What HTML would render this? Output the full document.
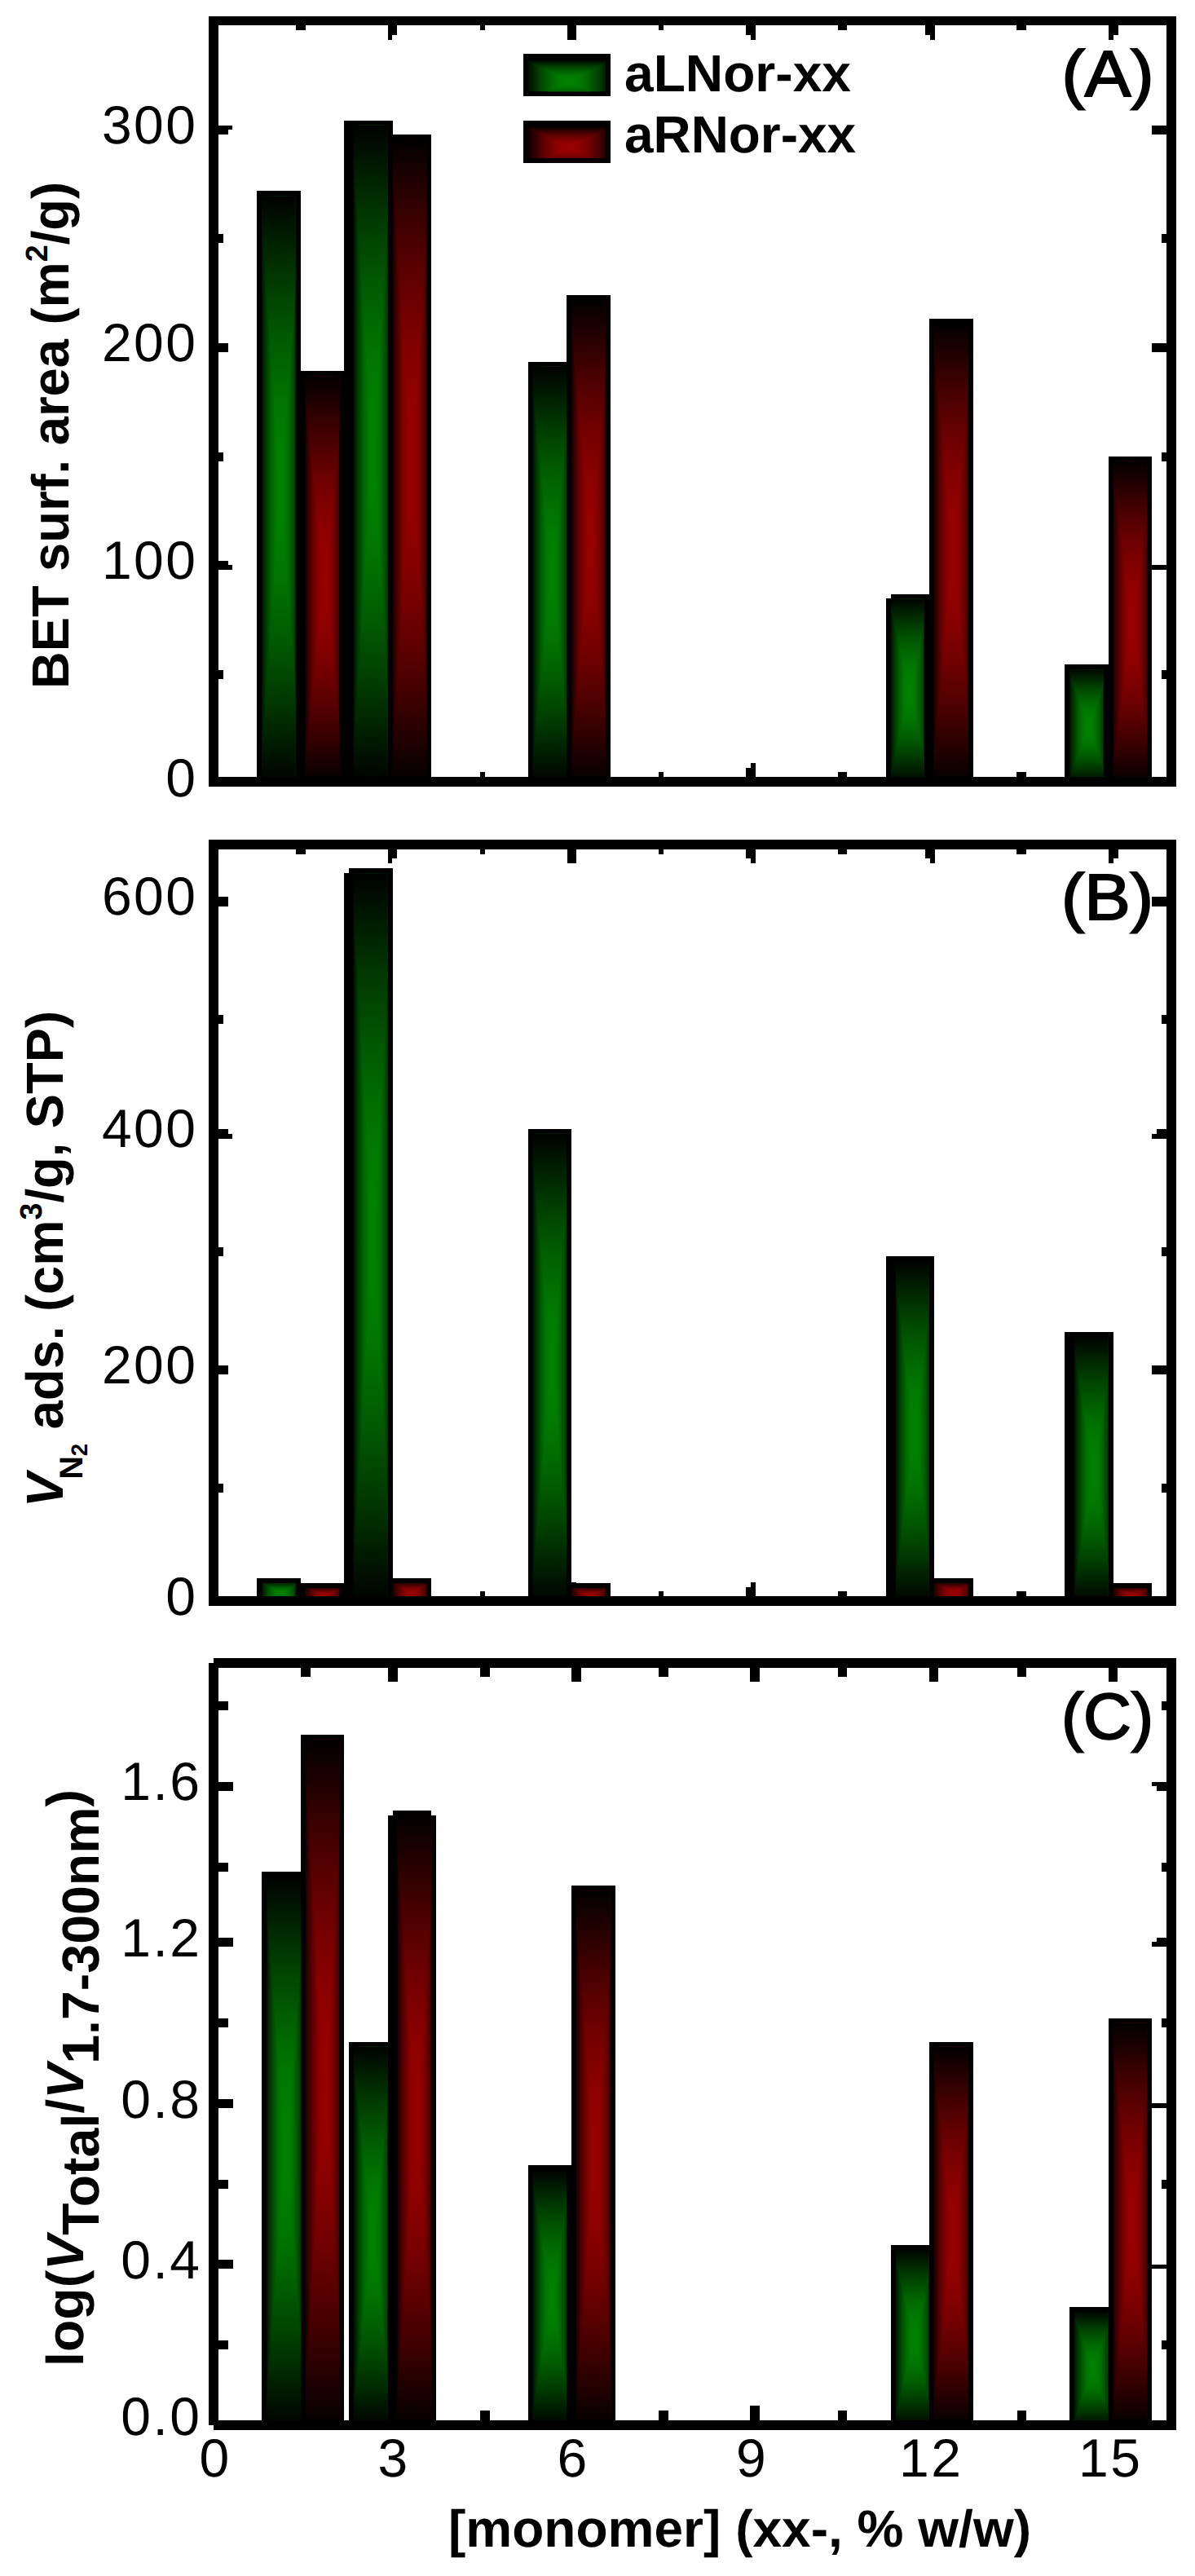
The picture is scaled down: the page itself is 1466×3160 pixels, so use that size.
<!DOCTYPE html>
<html lang="en">
<head>
<meta charset="utf-8">
<title>Figure: BET surface area, N2 adsorbed volume and pore volume ratio vs monomer concentration</title>
<style>
html,body{margin:0;padding:0;background:#fff;}
body{width:1466px;height:3160px;overflow:hidden;font-family:'Liberation Sans', sans-serif;}
svg{display:block;}
text{text-rendering:geometricPrecision;}
</style>
</head>
<body>
<svg width="1466" height="3160" viewBox="0 0 1466 3160" shape-rendering="crispEdges" font-family="'Liberation Sans', sans-serif" fill="#000">
<defs>
<clipPath id="c1"><rect x="321.2" y="240.3" width="41.4" height="718.9"/></clipPath>
<clipPath id="c2"><rect x="374.4" y="461.3" width="41.9" height="497.9"/></clipPath>
<clipPath id="c3"><rect x="434.0" y="153.5" width="41.8" height="805.7"/></clipPath>
<clipPath id="c4"><rect x="481.7" y="170.9" width="41.2" height="788.3"/></clipPath>
<clipPath id="c5"><rect x="653.6" y="449.7" width="41.6" height="509.5"/></clipPath>
<clipPath id="c6"><rect x="701.1" y="367.9" width="41.6" height="591.3"/></clipPath>
<clipPath id="c7"><rect x="1092.9" y="734.4" width="40.8" height="224.8"/></clipPath>
<clipPath id="c8"><rect x="1145.5" y="396.9" width="42.5" height="562.3"/></clipPath>
<clipPath id="c9"><rect x="1312.2" y="821.2" width="41.4" height="138.0"/></clipPath>
<clipPath id="c10"><rect x="1365.4" y="565.7" width="42.0" height="393.5"/></clipPath>
<clipPath id="c11"><rect x="321.2" y="1942.3" width="41.4" height="21.9"/></clipPath>
<clipPath id="c12"><rect x="374.4" y="1948.3" width="41.9" height="15.9"/></clipPath>
<clipPath id="c13"><rect x="434.0" y="1071.2" width="41.8" height="893.0"/></clipPath>
<clipPath id="c14"><rect x="481.7" y="1942.3" width="41.2" height="21.9"/></clipPath>
<clipPath id="c15"><rect x="653.6" y="1390.5" width="41.4" height="573.7"/></clipPath>
<clipPath id="c16"><rect x="700.9" y="1948.3" width="41.8" height="15.9"/></clipPath>
<clipPath id="c17"><rect x="1098.8" y="1547.1" width="41.0" height="417.1"/></clipPath>
<clipPath id="c18"><rect x="1145.7" y="1942.3" width="42.3" height="21.9"/></clipPath>
<clipPath id="c19"><rect x="1318.1" y="1639.9" width="41.6" height="324.3"/></clipPath>
<clipPath id="c20"><rect x="1365.6" y="1948.3" width="41.8" height="15.9"/></clipPath>
<clipPath id="c21"><rect x="327.2" y="2302.1" width="41.8" height="672.7"/></clipPath>
<clipPath id="c22"><rect x="374.9" y="2133.4" width="41.4" height="841.4"/></clipPath>
<clipPath id="c23"><rect x="434.1" y="2510.5" width="41.5" height="464.3"/></clipPath>
<clipPath id="c24"><rect x="487.4" y="2226.9" width="41.4" height="747.9"/></clipPath>
<clipPath id="c25"><rect x="653.6" y="2662.1" width="41.4" height="312.7"/></clipPath>
<clipPath id="c26"><rect x="706.8" y="2319.2" width="41.9" height="655.6"/></clipPath>
<clipPath id="c27"><rect x="1098.9" y="2760.0" width="40.7" height="214.8"/></clipPath>
<clipPath id="c28"><rect x="1145.5" y="2510.5" width="42.5" height="464.3"/></clipPath>
<clipPath id="c29"><rect x="1317.7" y="2835.9" width="41.8" height="138.9"/></clipPath>
<clipPath id="c30"><rect x="1365.4" y="2481.4" width="42.0" height="493.4"/></clipPath>
<clipPath id="c31"><rect x="647.6" y="71.9" width="95.1" height="40.4"/></clipPath>
<clipPath id="c32"><rect x="647.6" y="153.5" width="95.1" height="40.4"/></clipPath>
<linearGradient id="gh" x1="0" y1="0" x2="1" y2="0"><stop offset="0.000" stop-color="rgb(0,0,0)"/><stop offset="0.050" stop-color="rgb(0,20,0)"/><stop offset="0.100" stop-color="rgb(0,40,0)"/><stop offset="0.150" stop-color="rgb(0,59,0)"/><stop offset="0.200" stop-color="rgb(0,76,0)"/><stop offset="0.250" stop-color="rgb(0,92,0)"/><stop offset="0.300" stop-color="rgb(0,105,0)"/><stop offset="0.350" stop-color="rgb(0,116,0)"/><stop offset="0.400" stop-color="rgb(0,124,0)"/><stop offset="0.450" stop-color="rgb(0,128,0)"/><stop offset="0.500" stop-color="rgb(0,130,0)"/><stop offset="0.550" stop-color="rgb(0,128,0)"/><stop offset="0.600" stop-color="rgb(0,124,0)"/><stop offset="0.650" stop-color="rgb(0,116,0)"/><stop offset="0.700" stop-color="rgb(0,105,0)"/><stop offset="0.750" stop-color="rgb(0,92,0)"/><stop offset="0.800" stop-color="rgb(0,76,0)"/><stop offset="0.850" stop-color="rgb(0,59,0)"/><stop offset="0.900" stop-color="rgb(0,40,0)"/><stop offset="0.950" stop-color="rgb(0,20,0)"/><stop offset="1.000" stop-color="rgb(0,0,0)"/></linearGradient>
<linearGradient id="gt" x1="0" y1="0" x2="0" y2="1"><stop offset="0.000" stop-color="rgb(0,0,0)"/><stop offset="0.100" stop-color="rgb(0,20,0)"/><stop offset="0.200" stop-color="rgb(0,40,0)"/><stop offset="0.300" stop-color="rgb(0,59,0)"/><stop offset="0.400" stop-color="rgb(0,76,0)"/><stop offset="0.500" stop-color="rgb(0,92,0)"/><stop offset="0.600" stop-color="rgb(0,105,0)"/><stop offset="0.700" stop-color="rgb(0,116,0)"/><stop offset="0.800" stop-color="rgb(0,124,0)"/><stop offset="0.900" stop-color="rgb(0,128,0)"/><stop offset="1.000" stop-color="rgb(0,130,0)"/></linearGradient>
<linearGradient id="gb" x1="0" y1="0" x2="0" y2="1"><stop offset="0.000" stop-color="rgb(0,130,0)"/><stop offset="0.100" stop-color="rgb(0,128,0)"/><stop offset="0.200" stop-color="rgb(0,124,0)"/><stop offset="0.300" stop-color="rgb(0,116,0)"/><stop offset="0.400" stop-color="rgb(0,105,0)"/><stop offset="0.500" stop-color="rgb(0,92,0)"/><stop offset="0.600" stop-color="rgb(0,76,0)"/><stop offset="0.700" stop-color="rgb(0,59,0)"/><stop offset="0.800" stop-color="rgb(0,40,0)"/><stop offset="0.900" stop-color="rgb(0,20,0)"/><stop offset="1.000" stop-color="rgb(0,0,0)"/></linearGradient>
<linearGradient id="rh" x1="0" y1="0" x2="1" y2="0"><stop offset="0.000" stop-color="rgb(0,0,0)"/><stop offset="0.050" stop-color="rgb(24,0,0)"/><stop offset="0.100" stop-color="rgb(47,0,0)"/><stop offset="0.150" stop-color="rgb(69,0,0)"/><stop offset="0.200" stop-color="rgb(89,0,0)"/><stop offset="0.250" stop-color="rgb(107,0,0)"/><stop offset="0.300" stop-color="rgb(123,0,0)"/><stop offset="0.350" stop-color="rgb(135,0,0)"/><stop offset="0.400" stop-color="rgb(145,0,0)"/><stop offset="0.450" stop-color="rgb(150,0,0)"/><stop offset="0.500" stop-color="rgb(152,0,0)"/><stop offset="0.550" stop-color="rgb(150,0,0)"/><stop offset="0.600" stop-color="rgb(145,0,0)"/><stop offset="0.650" stop-color="rgb(135,0,0)"/><stop offset="0.700" stop-color="rgb(123,0,0)"/><stop offset="0.750" stop-color="rgb(107,0,0)"/><stop offset="0.800" stop-color="rgb(89,0,0)"/><stop offset="0.850" stop-color="rgb(69,0,0)"/><stop offset="0.900" stop-color="rgb(47,0,0)"/><stop offset="0.950" stop-color="rgb(24,0,0)"/><stop offset="1.000" stop-color="rgb(0,0,0)"/></linearGradient>
<linearGradient id="rt" x1="0" y1="0" x2="0" y2="1"><stop offset="0.000" stop-color="rgb(0,0,0)"/><stop offset="0.100" stop-color="rgb(24,0,0)"/><stop offset="0.200" stop-color="rgb(47,0,0)"/><stop offset="0.300" stop-color="rgb(69,0,0)"/><stop offset="0.400" stop-color="rgb(89,0,0)"/><stop offset="0.500" stop-color="rgb(107,0,0)"/><stop offset="0.600" stop-color="rgb(123,0,0)"/><stop offset="0.700" stop-color="rgb(135,0,0)"/><stop offset="0.800" stop-color="rgb(145,0,0)"/><stop offset="0.900" stop-color="rgb(150,0,0)"/><stop offset="1.000" stop-color="rgb(152,0,0)"/></linearGradient>
<linearGradient id="rb" x1="0" y1="0" x2="0" y2="1"><stop offset="0.000" stop-color="rgb(152,0,0)"/><stop offset="0.100" stop-color="rgb(150,0,0)"/><stop offset="0.200" stop-color="rgb(145,0,0)"/><stop offset="0.300" stop-color="rgb(135,0,0)"/><stop offset="0.400" stop-color="rgb(123,0,0)"/><stop offset="0.500" stop-color="rgb(107,0,0)"/><stop offset="0.600" stop-color="rgb(89,0,0)"/><stop offset="0.700" stop-color="rgb(69,0,0)"/><stop offset="0.800" stop-color="rgb(47,0,0)"/><stop offset="0.900" stop-color="rgb(24,0,0)"/><stop offset="1.000" stop-color="rgb(0,0,0)"/></linearGradient>
</defs>
<rect x="363.0" y="30.2" width="11.6" height="7.0" fill="#000"/>
<rect x="363.0" y="947.4" width="11.6" height="7.0" fill="#000"/>
<rect x="475.6" y="30.2" width="11.6" height="12.5" fill="#000"/>
<rect x="475.6" y="941.9" width="11.6" height="12.5" fill="#000"/>
<rect x="475.6" y="30.2" width="5.8" height="18.4" fill="#000"/>
<rect x="475.6" y="936.0" width="5.8" height="18.4" fill="#000"/>
<rect x="589.0" y="30.2" width="6.0" height="7.0" fill="#000"/>
<rect x="589.0" y="947.4" width="6.0" height="7.0" fill="#000"/>
<rect x="695.5" y="30.2" width="11.5" height="18.4" fill="#000"/>
<rect x="695.5" y="936.0" width="11.5" height="18.4" fill="#000"/>
<rect x="808.0" y="30.2" width="6.0" height="7.0" fill="#000"/>
<rect x="808.0" y="947.4" width="6.0" height="7.0" fill="#000"/>
<rect x="915.0" y="30.2" width="11.5" height="12.5" fill="#000"/>
<rect x="915.0" y="941.9" width="11.5" height="12.5" fill="#000"/>
<rect x="920.8" y="30.2" width="5.8" height="18.4" fill="#000"/>
<rect x="920.8" y="936.0" width="5.8" height="18.4" fill="#000"/>
<rect x="1028.0" y="30.2" width="11.4" height="7.0" fill="#000"/>
<rect x="1028.0" y="947.4" width="11.4" height="7.0" fill="#000"/>
<rect x="1135.0" y="30.2" width="11.5" height="12.5" fill="#000"/>
<rect x="1135.0" y="941.9" width="11.5" height="12.5" fill="#000"/>
<rect x="1140.8" y="30.2" width="5.8" height="18.4" fill="#000"/>
<rect x="1140.8" y="936.0" width="5.8" height="18.4" fill="#000"/>
<rect x="1247.0" y="30.2" width="11.8" height="7.0" fill="#000"/>
<rect x="1247.0" y="947.4" width="11.8" height="7.0" fill="#000"/>
<rect x="1359.8" y="30.2" width="11.7" height="12.5" fill="#000"/>
<rect x="1359.8" y="941.9" width="11.7" height="12.5" fill="#000"/>
<rect x="1359.8" y="30.2" width="5.9" height="18.4" fill="#000"/>
<rect x="1359.8" y="936.0" width="5.9" height="18.4" fill="#000"/>
<rect x="266.8" y="153.6" width="18.5" height="5.7" fill="#000"/>
<rect x="266.8" y="159.3" width="12.7" height="5.7" fill="#000"/>
<rect x="1413.3" y="153.6" width="19.0" height="5.7" fill="#000"/>
<rect x="1413.3" y="159.3" width="19.0" height="5.7" fill="#000"/>
<rect x="266.8" y="287.0" width="7.0" height="5.5" fill="#000"/>
<rect x="266.8" y="292.5" width="7.0" height="5.5" fill="#000"/>
<rect x="1424.8" y="287.0" width="7.5" height="5.5" fill="#000"/>
<rect x="1424.8" y="292.5" width="7.5" height="5.5" fill="#000"/>
<rect x="266.8" y="421.0" width="12.7" height="5.5" fill="#000"/>
<rect x="266.8" y="426.5" width="12.7" height="5.5" fill="#000"/>
<rect x="1413.3" y="421.0" width="19.0" height="5.5" fill="#000"/>
<rect x="1413.3" y="426.5" width="19.0" height="5.5" fill="#000"/>
<rect x="266.8" y="555.0" width="7.0" height="5.5" fill="#000"/>
<rect x="266.8" y="560.5" width="7.0" height="5.5" fill="#000"/>
<rect x="1424.8" y="555.0" width="7.5" height="5.5" fill="#000"/>
<rect x="1424.8" y="560.5" width="7.5" height="5.5" fill="#000"/>
<rect x="266.8" y="687.5" width="12.7" height="5.8" fill="#000"/>
<rect x="266.8" y="693.2" width="18.5" height="5.8" fill="#000"/>
<rect x="1431.3" y="687.5" width="1.0" height="5.8" fill="#000"/>
<rect x="1413.3" y="693.2" width="19.0" height="5.8" fill="#000"/>
<rect x="266.8" y="822.0" width="7.0" height="5.5" fill="#000"/>
<rect x="266.8" y="827.5" width="7.0" height="5.5" fill="#000"/>
<rect x="1424.8" y="822.0" width="7.5" height="5.5" fill="#000"/>
<rect x="1424.8" y="827.5" width="7.5" height="5.5" fill="#000"/>
<rect x="315.3" y="234.4" width="53.2" height="724.8" fill="#000"/>
<g clip-path="url(#c1)">
<rect x="318.7" y="238.3" width="51.4" height="723.9" fill="url(#gh)"/>
<polygon points="318.7,238.3 370.1,238.3 344.4,600.2" fill="url(#gt)"/>
<polygon points="318.7,962.2 370.1,962.2 344.4,600.2" fill="url(#gb)"/>
</g>
<rect x="368.5" y="455.4" width="53.7" height="503.8" fill="#000"/>
<g clip-path="url(#c2)">
<rect x="371.9" y="459.3" width="51.9" height="502.9" fill="url(#rh)"/>
<polygon points="371.9,459.3 423.8,459.3 397.9,710.8" fill="url(#rt)"/>
<polygon points="371.9,962.2 423.8,962.2 397.9,710.8" fill="url(#rb)"/>
</g>
<rect x="422.2" y="147.6" width="59.5" height="811.6" fill="#000"/>
<g clip-path="url(#c3)">
<rect x="431.5" y="151.5" width="51.8" height="810.7" fill="url(#gh)"/>
<polygon points="431.5,151.5 483.3,151.5 457.4,556.9" fill="url(#gt)"/>
<polygon points="431.5,962.2 483.3,962.2 457.4,556.9" fill="url(#gb)"/>
</g>
<rect x="481.7" y="165.0" width="47.1" height="794.2" fill="#000"/>
<g clip-path="url(#c4)">
<rect x="479.2" y="168.9" width="51.2" height="793.3" fill="url(#rh)"/>
<polygon points="479.2,168.9 530.4,168.9 504.8,565.6" fill="url(#rt)"/>
<polygon points="479.2,962.2 530.4,962.2 504.8,565.6" fill="url(#rb)"/>
</g>
<rect x="647.7" y="443.8" width="47.5" height="515.4" fill="#000"/>
<g clip-path="url(#c5)">
<rect x="651.1" y="447.7" width="51.6" height="514.5" fill="url(#gh)"/>
<polygon points="651.1,447.7 702.7,447.7 676.9,705.0" fill="url(#gt)"/>
<polygon points="651.1,962.2 702.7,962.2 676.9,705.0" fill="url(#gb)"/>
</g>
<rect x="695.2" y="362.0" width="53.4" height="597.2" fill="#000"/>
<g clip-path="url(#c6)">
<rect x="698.6" y="365.9" width="51.6" height="596.3" fill="url(#rh)"/>
<polygon points="698.6,365.9 750.2,365.9 724.4,664.0" fill="url(#rt)"/>
<polygon points="698.6,962.2 750.2,962.2 724.4,664.0" fill="url(#rb)"/>
</g>
<rect x="1087.0" y="728.5" width="52.6" height="230.7" fill="#000"/>
<g clip-path="url(#c7)">
<rect x="1090.4" y="732.4" width="50.8" height="229.8" fill="url(#gh)"/>
<polygon points="1090.4,732.4 1141.2,732.4 1115.8,847.3" fill="url(#gt)"/>
<polygon points="1090.4,962.2 1141.2,962.2 1115.8,847.3" fill="url(#gb)"/>
</g>
<rect x="1139.6" y="391.0" width="54.3" height="568.2" fill="#000"/>
<g clip-path="url(#c8)">
<rect x="1143.0" y="394.9" width="52.5" height="567.3" fill="url(#rh)"/>
<polygon points="1143.0,394.9 1195.5,394.9 1169.2,678.5" fill="url(#rt)"/>
<polygon points="1143.0,962.2 1195.5,962.2 1169.2,678.5" fill="url(#rb)"/>
</g>
<rect x="1306.3" y="815.3" width="53.2" height="143.9" fill="#000"/>
<g clip-path="url(#c9)">
<rect x="1309.7" y="819.2" width="51.4" height="143.0" fill="url(#gh)"/>
<polygon points="1309.7,819.2 1361.1,819.2 1335.4,890.7" fill="url(#gt)"/>
<polygon points="1309.7,962.2 1361.1,962.2 1335.4,890.7" fill="url(#gb)"/>
</g>
<rect x="1359.5" y="559.8" width="53.8" height="399.4" fill="#000"/>
<g clip-path="url(#c10)">
<rect x="1362.9" y="563.7" width="52.0" height="398.5" fill="url(#rh)"/>
<polygon points="1362.9,563.7 1414.9,563.7 1388.9,763.0" fill="url(#rt)"/>
<polygon points="1362.9,962.2 1414.9,962.2 1388.9,763.0" fill="url(#rb)"/>
</g>
<rect x="256.2" y="19.6" width="1186.7" height="11.6" fill="#000"/>
<rect x="256.2" y="953.4" width="1186.7" height="11.6" fill="#000"/>
<rect x="256.2" y="19.6" width="11.6" height="945.4" fill="#000"/>
<rect x="1431.3" y="19.6" width="11.6" height="945.4" fill="#000"/>
<rect x="363.0" y="1040.7" width="11.6" height="7.0" fill="#000"/>
<rect x="363.0" y="1952.4" width="11.6" height="7.0" fill="#000"/>
<rect x="475.6" y="1040.7" width="11.6" height="12.5" fill="#000"/>
<rect x="475.6" y="1946.9" width="11.6" height="12.5" fill="#000"/>
<rect x="475.6" y="1040.7" width="5.8" height="18.4" fill="#000"/>
<rect x="475.6" y="1941.0" width="5.8" height="18.4" fill="#000"/>
<rect x="589.0" y="1040.7" width="6.0" height="7.0" fill="#000"/>
<rect x="589.0" y="1952.4" width="6.0" height="7.0" fill="#000"/>
<rect x="695.5" y="1040.7" width="11.5" height="18.4" fill="#000"/>
<rect x="695.5" y="1941.0" width="11.5" height="18.4" fill="#000"/>
<rect x="808.0" y="1040.7" width="6.0" height="7.0" fill="#000"/>
<rect x="808.0" y="1952.4" width="6.0" height="7.0" fill="#000"/>
<rect x="915.0" y="1040.7" width="11.5" height="12.5" fill="#000"/>
<rect x="915.0" y="1946.9" width="11.5" height="12.5" fill="#000"/>
<rect x="920.8" y="1040.7" width="5.8" height="18.4" fill="#000"/>
<rect x="920.8" y="1941.0" width="5.8" height="18.4" fill="#000"/>
<rect x="1028.0" y="1040.7" width="11.4" height="7.0" fill="#000"/>
<rect x="1028.0" y="1952.4" width="11.4" height="7.0" fill="#000"/>
<rect x="1135.0" y="1040.7" width="11.5" height="12.5" fill="#000"/>
<rect x="1135.0" y="1946.9" width="11.5" height="12.5" fill="#000"/>
<rect x="1140.8" y="1040.7" width="5.8" height="18.4" fill="#000"/>
<rect x="1140.8" y="1941.0" width="5.8" height="18.4" fill="#000"/>
<rect x="1247.0" y="1040.7" width="11.8" height="7.0" fill="#000"/>
<rect x="1247.0" y="1952.4" width="11.8" height="7.0" fill="#000"/>
<rect x="1359.8" y="1040.7" width="11.7" height="12.5" fill="#000"/>
<rect x="1359.8" y="1946.9" width="11.7" height="12.5" fill="#000"/>
<rect x="1359.8" y="1040.7" width="5.9" height="18.4" fill="#000"/>
<rect x="1359.8" y="1941.0" width="5.9" height="18.4" fill="#000"/>
<rect x="266.8" y="1100.4" width="13.2" height="5.5" fill="#000"/>
<rect x="266.8" y="1106.0" width="13.2" height="5.5" fill="#000"/>
<rect x="1413.3" y="1100.4" width="19.0" height="5.5" fill="#000"/>
<rect x="1413.3" y="1106.0" width="19.0" height="5.5" fill="#000"/>
<rect x="266.8" y="1245.0" width="7.0" height="5.5" fill="#000"/>
<rect x="266.8" y="1250.5" width="7.0" height="5.5" fill="#000"/>
<rect x="1424.8" y="1245.0" width="7.5" height="5.5" fill="#000"/>
<rect x="1424.8" y="1250.5" width="7.5" height="5.5" fill="#000"/>
<rect x="266.8" y="1385.0" width="13.2" height="5.8" fill="#000"/>
<rect x="266.8" y="1390.8" width="18.5" height="5.8" fill="#000"/>
<rect x="1419.3" y="1385.0" width="13.0" height="5.8" fill="#000"/>
<rect x="1413.3" y="1390.8" width="19.0" height="5.8" fill="#000"/>
<rect x="266.8" y="1529.7" width="7.0" height="5.5" fill="#000"/>
<rect x="266.8" y="1535.2" width="7.0" height="5.5" fill="#000"/>
<rect x="1424.8" y="1529.7" width="7.5" height="5.5" fill="#000"/>
<rect x="1424.8" y="1535.2" width="7.5" height="5.5" fill="#000"/>
<rect x="266.8" y="1675.3" width="13.2" height="5.5" fill="#000"/>
<rect x="266.8" y="1680.8" width="13.2" height="5.5" fill="#000"/>
<rect x="1413.3" y="1675.3" width="19.0" height="5.5" fill="#000"/>
<rect x="1413.3" y="1680.8" width="19.0" height="5.5" fill="#000"/>
<rect x="266.8" y="1820.0" width="7.0" height="5.5" fill="#000"/>
<rect x="266.8" y="1825.5" width="7.0" height="5.5" fill="#000"/>
<rect x="1424.8" y="1820.0" width="7.5" height="5.5" fill="#000"/>
<rect x="1424.8" y="1825.5" width="7.5" height="5.5" fill="#000"/>
<rect x="315.3" y="1936.4" width="53.2" height="27.8" fill="#000"/>
<g clip-path="url(#c11)">
<rect x="318.7" y="1940.3" width="51.4" height="26.9" fill="url(#gh)"/>
<polygon points="318.7,1940.3 370.1,1940.3 344.4,1953.8" fill="url(#gt)"/>
<polygon points="318.7,1967.2 370.1,1967.2 344.4,1953.8" fill="url(#gb)"/>
</g>
<rect x="368.5" y="1942.4" width="53.7" height="21.8" fill="#000"/>
<g clip-path="url(#c12)">
<rect x="371.9" y="1946.3" width="51.9" height="20.9" fill="url(#rh)"/>
<polygon points="371.9,1946.3 423.8,1946.3 397.9,1956.8" fill="url(#rt)"/>
<polygon points="371.9,1967.2 423.8,1967.2 397.9,1956.8" fill="url(#rb)"/>
</g>
<rect x="422.2" y="1065.3" width="59.5" height="898.9" fill="#000"/>
<g clip-path="url(#c13)">
<rect x="431.5" y="1069.2" width="51.8" height="898.0" fill="url(#gh)"/>
<polygon points="431.5,1069.2 483.3,1069.2 457.4,1518.2" fill="url(#gt)"/>
<polygon points="431.5,1967.2 483.3,1967.2 457.4,1518.2" fill="url(#gb)"/>
</g>
<rect x="481.7" y="1936.4" width="47.1" height="27.8" fill="#000"/>
<g clip-path="url(#c14)">
<rect x="479.2" y="1940.3" width="51.2" height="26.9" fill="url(#rh)"/>
<polygon points="479.2,1940.3 530.4,1940.3 504.8,1953.8" fill="url(#rt)"/>
<polygon points="479.2,1967.2 530.4,1967.2 504.8,1953.8" fill="url(#rb)"/>
</g>
<rect x="647.7" y="1384.6" width="53.2" height="579.6" fill="#000"/>
<g clip-path="url(#c15)">
<rect x="651.1" y="1388.5" width="51.4" height="578.7" fill="url(#gh)"/>
<polygon points="651.1,1388.5 702.5,1388.5 676.8,1677.8" fill="url(#gt)"/>
<polygon points="651.1,1967.2 702.5,1967.2 676.8,1677.8" fill="url(#gb)"/>
</g>
<rect x="700.9" y="1942.4" width="47.7" height="21.8" fill="#000"/>
<g clip-path="url(#c16)">
<rect x="698.4" y="1946.3" width="51.8" height="20.9" fill="url(#rh)"/>
<polygon points="698.4,1946.3 750.2,1946.3 724.3,1956.8" fill="url(#rt)"/>
<polygon points="698.4,1967.2 750.2,1967.2 724.3,1956.8" fill="url(#rb)"/>
</g>
<rect x="1087.0" y="1541.2" width="58.7" height="423.0" fill="#000"/>
<g clip-path="url(#c17)">
<rect x="1096.3" y="1545.1" width="51.0" height="422.1" fill="url(#gh)"/>
<polygon points="1096.3,1545.1 1147.3,1545.1 1121.8,1756.2" fill="url(#gt)"/>
<polygon points="1096.3,1967.2 1147.3,1967.2 1121.8,1756.2" fill="url(#gb)"/>
</g>
<rect x="1145.7" y="1936.4" width="48.2" height="27.8" fill="#000"/>
<g clip-path="url(#c18)">
<rect x="1143.2" y="1940.3" width="52.3" height="26.9" fill="url(#rh)"/>
<polygon points="1143.2,1940.3 1195.5,1940.3 1169.3,1953.8" fill="url(#rt)"/>
<polygon points="1143.2,1967.2 1195.5,1967.2 1169.3,1953.8" fill="url(#rb)"/>
</g>
<rect x="1306.3" y="1634.0" width="59.3" height="330.2" fill="#000"/>
<g clip-path="url(#c19)">
<rect x="1315.6" y="1637.9" width="51.6" height="329.3" fill="url(#gh)"/>
<polygon points="1315.6,1637.9 1367.2,1637.9 1341.4,1802.6" fill="url(#gt)"/>
<polygon points="1315.6,1967.2 1367.2,1967.2 1341.4,1802.6" fill="url(#gb)"/>
</g>
<rect x="1365.6" y="1942.4" width="47.7" height="21.8" fill="#000"/>
<g clip-path="url(#c20)">
<rect x="1363.1" y="1946.3" width="51.8" height="20.9" fill="url(#rh)"/>
<polygon points="1363.1,1946.3 1414.9,1946.3 1389.0,1956.8" fill="url(#rt)"/>
<polygon points="1363.1,1967.2 1414.9,1967.2 1389.0,1956.8" fill="url(#rb)"/>
</g>
<rect x="256.2" y="1030.1" width="1186.7" height="11.6" fill="#000"/>
<rect x="256.2" y="1958.4" width="1186.7" height="11.6" fill="#000"/>
<rect x="256.2" y="1030.1" width="11.6" height="939.9" fill="#000"/>
<rect x="1431.3" y="1030.1" width="11.6" height="939.9" fill="#000"/>
<rect x="369.0" y="2044.7" width="11.5" height="12.6" fill="#000"/>
<rect x="369.0" y="2957.4" width="11.5" height="12.6" fill="#000"/>
<rect x="476.0" y="2044.7" width="11.5" height="18.6" fill="#000"/>
<rect x="476.0" y="2951.4" width="11.5" height="18.6" fill="#000"/>
<rect x="589.0" y="2044.7" width="11.5" height="12.6" fill="#000"/>
<rect x="589.0" y="2957.4" width="11.5" height="12.6" fill="#000"/>
<rect x="701.0" y="2044.7" width="11.5" height="18.6" fill="#000"/>
<rect x="701.0" y="2951.4" width="11.5" height="18.6" fill="#000"/>
<rect x="808.3" y="2044.7" width="11.7" height="12.6" fill="#000"/>
<rect x="808.3" y="2957.4" width="11.7" height="12.6" fill="#000"/>
<rect x="920.0" y="2044.7" width="12.0" height="18.6" fill="#000"/>
<rect x="920.0" y="2951.4" width="12.0" height="18.6" fill="#000"/>
<rect x="1027.7" y="2044.7" width="11.6" height="12.6" fill="#000"/>
<rect x="1027.7" y="2957.4" width="11.6" height="12.6" fill="#000"/>
<rect x="1139.6" y="2044.7" width="11.4" height="18.6" fill="#000"/>
<rect x="1139.6" y="2951.4" width="11.4" height="18.6" fill="#000"/>
<rect x="1247.6" y="2044.7" width="11.2" height="12.6" fill="#000"/>
<rect x="1247.6" y="2957.4" width="11.2" height="12.6" fill="#000"/>
<rect x="1359.5" y="2044.7" width="11.5" height="18.6" fill="#000"/>
<rect x="1359.5" y="2951.4" width="11.5" height="18.6" fill="#000"/>
<rect x="266.8" y="2086.9" width="13.2" height="5.5" fill="#000"/>
<rect x="266.8" y="2092.4" width="13.2" height="5.5" fill="#000"/>
<rect x="1424.8" y="2086.9" width="7.5" height="5.5" fill="#000"/>
<rect x="1424.8" y="2092.4" width="7.5" height="5.5" fill="#000"/>
<rect x="266.8" y="2185.8" width="18.7" height="5.5" fill="#000"/>
<rect x="266.8" y="2191.3" width="18.7" height="5.5" fill="#000"/>
<rect x="1413.3" y="2185.8" width="19.0" height="5.5" fill="#000"/>
<rect x="1419.3" y="2191.3" width="13.0" height="5.5" fill="#000"/>
<rect x="266.8" y="2284.7" width="13.2" height="5.5" fill="#000"/>
<rect x="266.8" y="2290.2" width="13.2" height="5.5" fill="#000"/>
<rect x="1424.8" y="2284.7" width="7.5" height="5.5" fill="#000"/>
<rect x="1424.8" y="2290.2" width="7.5" height="5.5" fill="#000"/>
<rect x="266.8" y="2376.6" width="18.7" height="5.8" fill="#000"/>
<rect x="266.8" y="2382.3" width="18.7" height="5.8" fill="#000"/>
<rect x="1419.3" y="2376.6" width="13.0" height="5.8" fill="#000"/>
<rect x="1413.3" y="2382.3" width="19.0" height="5.8" fill="#000"/>
<rect x="266.8" y="2476.0" width="13.2" height="5.5" fill="#000"/>
<rect x="266.8" y="2481.5" width="13.2" height="5.5" fill="#000"/>
<rect x="1424.8" y="2476.0" width="7.5" height="5.5" fill="#000"/>
<rect x="1424.8" y="2481.5" width="7.5" height="5.5" fill="#000"/>
<rect x="266.8" y="2574.9" width="18.7" height="5.5" fill="#000"/>
<rect x="266.8" y="2580.4" width="18.7" height="5.6" fill="#000"/>
<rect x="1431.3" y="2574.9" width="1.0" height="5.5" fill="#000"/>
<rect x="1413.3" y="2580.4" width="19.0" height="5.6" fill="#000"/>
<rect x="266.8" y="2673.8" width="13.2" height="5.8" fill="#000"/>
<rect x="266.8" y="2679.6" width="13.2" height="5.8" fill="#000"/>
<rect x="1424.8" y="2673.8" width="7.5" height="5.8" fill="#000"/>
<rect x="1424.8" y="2679.6" width="7.5" height="5.8" fill="#000"/>
<rect x="266.8" y="2772.2" width="18.7" height="5.5" fill="#000"/>
<rect x="266.8" y="2777.7" width="18.7" height="5.5" fill="#000"/>
<rect x="1431.3" y="2772.2" width="1.0" height="5.5" fill="#000"/>
<rect x="1413.3" y="2777.7" width="19.0" height="5.5" fill="#000"/>
<rect x="266.8" y="2871.0" width="13.2" height="5.5" fill="#000"/>
<rect x="266.8" y="2876.5" width="13.2" height="5.5" fill="#000"/>
<rect x="1424.8" y="2871.0" width="7.5" height="5.5" fill="#000"/>
<rect x="1424.8" y="2876.5" width="7.5" height="5.5" fill="#000"/>
<rect x="321.3" y="2296.2" width="47.7" height="678.6" fill="#000"/>
<g clip-path="url(#c21)">
<rect x="324.7" y="2300.1" width="51.8" height="677.7" fill="url(#gh)"/>
<polygon points="324.7,2300.1 376.5,2300.1 350.6,2638.9" fill="url(#gt)"/>
<polygon points="324.7,2977.8 376.5,2977.8 350.6,2638.9" fill="url(#gb)"/>
</g>
<rect x="369.0" y="2127.5" width="53.2" height="847.3" fill="#000"/>
<g clip-path="url(#c22)">
<rect x="372.4" y="2131.4" width="51.4" height="846.4" fill="url(#rh)"/>
<polygon points="372.4,2131.4 423.8,2131.4 398.1,2554.6" fill="url(#rt)"/>
<polygon points="372.4,2977.8 423.8,2977.8 398.1,2554.6" fill="url(#rb)"/>
</g>
<rect x="428.2" y="2504.6" width="47.4" height="470.2" fill="#000"/>
<g clip-path="url(#c23)">
<rect x="431.6" y="2508.5" width="51.5" height="469.3" fill="url(#gh)"/>
<polygon points="431.6,2508.5 483.1,2508.5 457.4,2743.1" fill="url(#gt)"/>
<polygon points="431.6,2977.8 483.1,2977.8 457.4,2743.1" fill="url(#gb)"/>
</g>
<rect x="475.6" y="2221.0" width="59.1" height="753.8" fill="#000"/>
<g clip-path="url(#c24)">
<rect x="484.9" y="2224.9" width="51.4" height="752.9" fill="url(#rh)"/>
<polygon points="484.9,2224.9 536.3,2224.9 510.6,2601.3" fill="url(#rt)"/>
<polygon points="484.9,2977.8 536.3,2977.8 510.6,2601.3" fill="url(#rb)"/>
</g>
<rect x="647.7" y="2656.2" width="53.2" height="318.6" fill="#000"/>
<g clip-path="url(#c25)">
<rect x="651.1" y="2660.1" width="51.4" height="317.7" fill="url(#gh)"/>
<polygon points="651.1,2660.1 702.5,2660.1 676.8,2818.9" fill="url(#gt)"/>
<polygon points="651.1,2977.8 702.5,2977.8 676.8,2818.9" fill="url(#gb)"/>
</g>
<rect x="700.9" y="2313.3" width="53.7" height="661.5" fill="#000"/>
<g clip-path="url(#c26)">
<rect x="704.3" y="2317.2" width="51.9" height="660.6" fill="url(#rh)"/>
<polygon points="704.3,2317.2 756.2,2317.2 730.2,2647.5" fill="url(#rt)"/>
<polygon points="704.3,2977.8 756.2,2977.8 730.2,2647.5" fill="url(#rb)"/>
</g>
<rect x="1093.0" y="2754.1" width="46.6" height="220.7" fill="#000"/>
<g clip-path="url(#c27)">
<rect x="1096.4" y="2758.0" width="50.7" height="219.8" fill="url(#gh)"/>
<polygon points="1096.4,2758.0 1147.1,2758.0 1121.8,2867.9" fill="url(#gt)"/>
<polygon points="1096.4,2977.8 1147.1,2977.8 1121.8,2867.9" fill="url(#gb)"/>
</g>
<rect x="1139.6" y="2504.6" width="54.3" height="470.2" fill="#000"/>
<g clip-path="url(#c28)">
<rect x="1143.0" y="2508.5" width="52.5" height="469.3" fill="url(#rh)"/>
<polygon points="1143.0,2508.5 1195.5,2508.5 1169.2,2743.1" fill="url(#rt)"/>
<polygon points="1143.0,2977.8 1195.5,2977.8 1169.2,2743.1" fill="url(#rb)"/>
</g>
<rect x="1311.8" y="2830.0" width="47.7" height="144.8" fill="#000"/>
<g clip-path="url(#c29)">
<rect x="1315.2" y="2833.9" width="51.8" height="143.9" fill="url(#gh)"/>
<polygon points="1315.2,2833.9 1367.0,2833.9 1341.1,2905.8" fill="url(#gt)"/>
<polygon points="1315.2,2977.8 1367.0,2977.8 1341.1,2905.8" fill="url(#gb)"/>
</g>
<rect x="1359.5" y="2475.5" width="53.8" height="499.3" fill="#000"/>
<g clip-path="url(#c30)">
<rect x="1362.9" y="2479.4" width="52.0" height="498.4" fill="url(#rh)"/>
<polygon points="1362.9,2479.4 1414.9,2479.4 1388.9,2728.6" fill="url(#rt)"/>
<polygon points="1362.9,2977.8 1414.9,2977.8 1388.9,2728.6" fill="url(#rb)"/>
</g>
<rect x="256.2" y="2034.1" width="1186.7" height="11.6" fill="#000"/>
<rect x="256.2" y="2969.0" width="1186.7" height="11.6" fill="#000"/>
<rect x="256.2" y="2034.1" width="11.6" height="946.5" fill="#000"/>
<rect x="1431.3" y="2034.1" width="11.6" height="946.5" fill="#000"/>
<rect x="256.2" y="2034.1" width="5.9" height="5.9" fill="#fff"/>
<rect x="256.2" y="2974.7" width="5.9" height="5.9" fill="#fff"/>
<rect x="475.6" y="2221.0" width="5.9" height="5.9" fill="#fff"/>
<rect x="528.8" y="2221.0" width="5.9" height="5.9" fill="#fff"/>
<rect x="422.2" y="1065.3" width="5.9" height="5.9" fill="#fff"/>
<rect x="1087.0" y="728.5" width="5.9" height="5.9" fill="#fff"/>
<rect x="641.7" y="66.0" width="106.9" height="52.2" fill="#000"/>
<g clip-path="url(#c31)">
<rect x="644.7" y="73.4" width="106.9" height="52.2" fill="url(#gh)"/>
<polygon points="644.7,73.4 751.6,73.4 698.2,99.5" fill="url(#gt)"/>
<polygon points="644.7,125.6 751.6,125.6 698.2,99.5" fill="url(#gb)"/>
</g>
<rect x="641.7" y="147.6" width="106.9" height="52.2" fill="#000"/>
<g clip-path="url(#c32)">
<rect x="644.7" y="155.0" width="106.9" height="52.2" fill="url(#rh)"/>
<polygon points="644.7,155.0 751.6,155.0 698.2,181.1" fill="url(#rt)"/>
<polygon points="644.7,207.2 751.6,207.2 698.2,181.1" fill="url(#rb)"/>
</g>
<text x="242.5" y="175.9" font-size="66" text-anchor="end" font-weight="normal" letter-spacing="2.5">300</text>
<text x="242.5" y="443.0" font-size="66" text-anchor="end" font-weight="normal" letter-spacing="2.5">200</text>
<text x="242.5" y="709.6" font-size="66" text-anchor="end" font-weight="normal" letter-spacing="2.5">100</text>
<text x="242.5" y="976.9" font-size="66" text-anchor="end" font-weight="normal" letter-spacing="2.5">0</text>
<text x="242.5" y="1122.2" font-size="66" text-anchor="end" font-weight="normal" letter-spacing="2.5">600</text>
<text x="242.5" y="1406.9" font-size="66" text-anchor="end" font-weight="normal" letter-spacing="2.5">400</text>
<text x="242.5" y="1697.2" font-size="66" text-anchor="end" font-weight="normal" letter-spacing="2.5">200</text>
<text x="242.5" y="1981.4" font-size="66" text-anchor="end" font-weight="normal" letter-spacing="2.5">0</text>
<text x="247.5" y="2208.2" font-size="66" text-anchor="end" font-weight="normal" letter-spacing="2.5">1.6</text>
<text x="247.5" y="2399.6" font-size="66" text-anchor="end" font-weight="normal" letter-spacing="2.5">1.2</text>
<text x="247.5" y="2597.6" font-size="66" text-anchor="end" font-weight="normal" letter-spacing="2.5">0.8</text>
<text x="247.5" y="2794.6" font-size="66" text-anchor="end" font-weight="normal" letter-spacing="2.5">0.4</text>
<text x="247.5" y="2986.6" font-size="66" text-anchor="end" font-weight="normal" letter-spacing="2.5">0.0</text>
<text x="264.0" y="3038.4" font-size="66" text-anchor="middle" font-weight="normal" letter-spacing="2.5">0</text>
<text x="483.2" y="3038.4" font-size="66" text-anchor="middle" font-weight="normal" letter-spacing="2.5">3</text>
<text x="703.0" y="3038.4" font-size="66" text-anchor="middle" font-weight="normal" letter-spacing="2.5">6</text>
<text x="922.7" y="3038.4" font-size="66" text-anchor="middle" font-weight="normal" letter-spacing="2.5">9</text>
<text x="1142.2" y="3038.4" font-size="66" text-anchor="middle" font-weight="normal" letter-spacing="2.5">12</text>
<text x="1362.2" y="3038.4" font-size="66" text-anchor="middle" font-weight="normal" letter-spacing="2.5">15</text>
<text x="1359.0" y="117.6" font-size="80" text-anchor="middle" font-weight="normal" textLength="113.0" lengthAdjust="spacingAndGlyphs" stroke="#000" stroke-width="2">(A)</text>
<text x="1358.5" y="1127.6" font-size="80" text-anchor="middle" font-weight="normal" textLength="113.0" lengthAdjust="spacingAndGlyphs" stroke="#000" stroke-width="2">(B)</text>
<text x="1358.5" y="2132.6" font-size="80" text-anchor="middle" font-weight="normal" textLength="113.0" lengthAdjust="spacingAndGlyphs" stroke="#000" stroke-width="2">(C)</text>
<text x="766.0" y="112.3" font-size="64" text-anchor="start" font-weight="bold" textLength="278.0" lengthAdjust="spacingAndGlyphs">aLNor-xx</text>
<text x="766.0" y="186.9" font-size="64" text-anchor="start" font-weight="bold" textLength="284.0" lengthAdjust="spacingAndGlyphs">aRNor-xx</text>
<text x="550.0" y="3124.0" font-size="64" text-anchor="start" font-weight="bold" textLength="715.0" lengthAdjust="spacingAndGlyphs">[monomer] (xx-, % w/w)</text>
<text transform="translate(84.0,845.0) rotate(-90)" font-size="64" font-weight="bold" textLength="622.0" lengthAdjust="spacingAndGlyphs">BET surf. area (m<tspan font-size="38" dy="-26">2</tspan><tspan dy="26">/g)</tspan></text>
<text transform="translate(77.0,1849.0) rotate(-90)" font-size="64" font-weight="bold" textLength="609.0" lengthAdjust="spacingAndGlyphs"><tspan font-style="italic">V</tspan><tspan font-size="40" dy="24" dx="-8">N</tspan><tspan font-size="28" dy="6">2</tspan><tspan dy="-30"> ads. (cm</tspan><tspan font-size="38" dy="-26">3</tspan><tspan dy="26">/g, STP)</tspan></text>
<text transform="translate(101.5,2903.0) rotate(-90)" font-size="64" font-weight="bold" textLength="708.0" lengthAdjust="spacingAndGlyphs">log(<tspan font-style="italic">V</tspan><tspan dy="19">Total</tspan><tspan dy="-19">/</tspan><tspan font-style="italic">V</tspan><tspan dy="19">1.7-300nm</tspan><tspan dy="-19">)</tspan></text>
</svg>
</body>
</html>
